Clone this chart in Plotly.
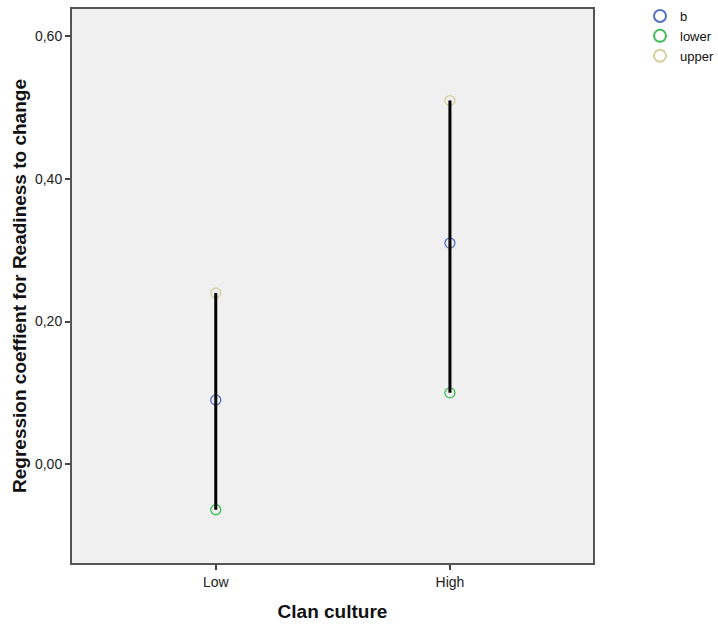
import plotly.graph_objects as go

categories = ["Low", "High"]
b_values = [0.09, 0.31]
lower_values = [-0.064, 0.10]
upper_values = [0.24, 0.51]
y_ticks = [0.0, 0.2, 0.4, 0.6]

x_title = "Clan culture"
y_title = "Regression coeffient for Readiness to change"

FONT = "Liberation Sans, Arial, sans-serif"

fig = go.Figure()

series = [("b", b_values, "#5570c4"),
          ("lower", lower_values, "#3fbd55"),
          ("upper", upper_values, "#d6d09e")]
for name, vals, col in series:
    fig.add_trace(go.Scatter(x=categories, y=vals, mode="markers", name=name,
                             marker=dict(symbol="circle-open", size=10,
                                         color=col, line=dict(width=1.3, color=col))))

# vertical interval lines (lower -> upper), drawn on top of markers
line_x, line_y = [], []
for c, lo, up in zip(categories, lower_values, upper_values):
    line_x += [c, c, None]
    line_y += [lo, up, None]
fig.add_trace(go.Scatter(x=line_x, y=line_y, mode="lines",
                         line=dict(color="black", width=3),
                         showlegend=False, hoverinfo="skip"))

fig.update_layout(
    width=718, height=627,
    margin=dict(l=72, r=125, t=7, b=64),
    paper_bgcolor="white", plot_bgcolor="#f0f0f0",
    separators=",.",
    font=dict(family=FONT, size=14, color="#222"),
    legend=dict(xref="container", yref="container",
                x=640 / 718, y=1 - 1 / 627, xanchor="left", yanchor="top",
                font=dict(size=13, color="#111"), tracegroupgap=0,
                itemsizing="constant", bgcolor="rgba(0,0,0,0)"),
    showlegend=True,
)

fig.update_xaxes(type="category", categoryorder="array", categoryarray=categories,
                 range=[-0.614, 1.611], showgrid=False, zeroline=False,
                 showline=True, linecolor="#555", linewidth=2, mirror=True,
                 ticks="outside", ticklen=5, tickcolor="#444", tickwidth=2,
                 tickfont=dict(size=14, color="#222"),
                 title=dict(text="<b>" + x_title + "</b>",
                            font=dict(size=19, color="#111"), standoff=16))
fig.update_yaxes(range=[-0.1387, 0.6384], tickvals=y_ticks, tickformat=".2f",
                 showgrid=False, zeroline=False,
                 showline=True, linecolor="#555", linewidth=2, mirror=True,
                 ticks="outside", ticklen=5, tickcolor="#444", tickwidth=2,
                 tickfont=dict(size=14, color="#222"),
                 title=dict(text="<b>" + y_title + "</b>",
                            font=dict(size=19, color="#111"), standoff=3))

fig.write_html("out.html",
               config={"displayModeBar": False},
               post_script="document.body.style.margin='0';document.body.style.padding='0';")
